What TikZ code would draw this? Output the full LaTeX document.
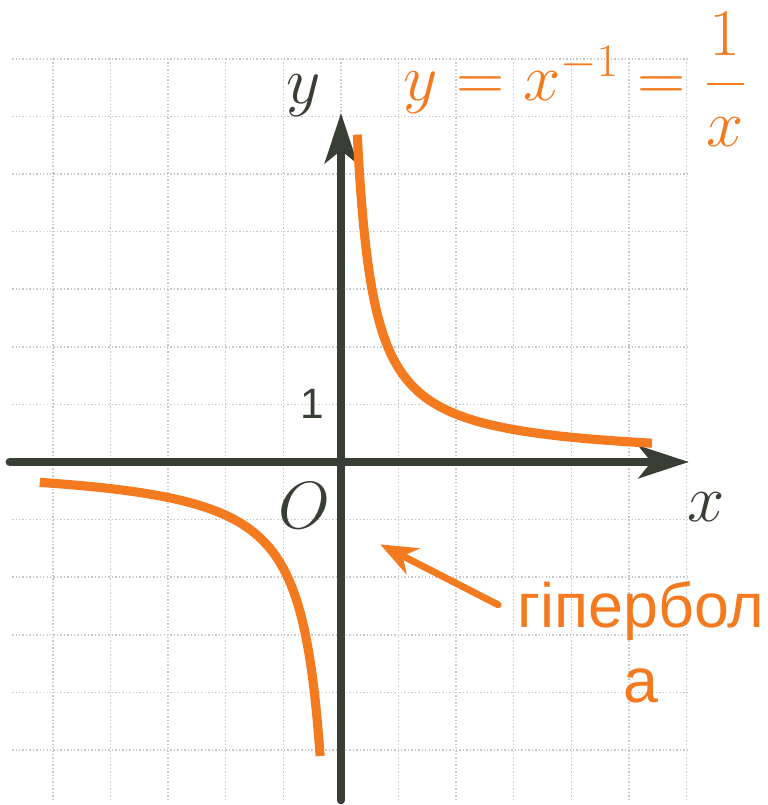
\documentclass[tikz,border=0pt]{standalone}
\usepackage{fix-cm}
\usepackage{amsmath}
\usepackage{fontspec}
\setmainfont{Liberation Sans}
\usetikzlibrary{arrows.meta}
\definecolor{hypOrange}{RGB}{244,122,32}
\definecolor{axisDark}{RGB}{55,63,52}
\definecolor{gridGray}{RGB}{200,200,200}

\begin{document}
\begin{tikzpicture}[
    gridline/.style={draw=gridGray, line width=0.7pt, densely dotted},
    axis/.style={draw=axisDark, line width=4.2pt, line cap=round, -{Stealth[length=0.87cm, width=0.56cm, inset=0.22cm]}},
    branch/.style={draw=hypOrange, line width=4.5pt, samples=200, smooth},
    pointer/.style={draw=hypOrange, line width=3.4pt, line cap=round, -{Stealth[length=0.64cm, width=0.5cm, inset=0.2cm]}},
    mathlbl/.style={inner sep=0pt, anchor=base, font=\fontsize{33}{40}\selectfont},
    textlbl/.style={inner sep=0pt, anchor=base, text=hypOrange, align=center, font=\fontsize{31}{37}\selectfont}
]
    \useasboundingbox (-5.92,-5.955) rectangle (7.413,8.021);

    \foreach \gx in {-5,...,6}
        \draw [gridline] (\gx,-5.87) -- (\gx,7);
    \foreach \gy in {-5,...,7}
        \draw [gridline] (-5.71,\gy) -- (6.04,\gy);

    \draw [axis] (-5.75,0) -- (6.04,0);
    \draw [axis] (0,-5.87) -- (0,6.06);

    \draw [branch, domain=0.283:5.4] plot (\x,{1.6/\x+0.03});
    \draw [branch, domain=-5.23:-0.36] plot (\x,{1.85/\x});

    \node [mathlbl, text=axisDark] (ylab) at (-0.64,6.22) {$y$};
    \node [mathlbl, text=axisDark] (xlab) at (6.34,-1.04) {$x$};
    \node [mathlbl, text=axisDark] (olab) at (-0.63,-1.15) {$O$};
    \node [inner sep=0pt, anchor=base, text=axisDark, font=\fontsize{21}{24}\selectfont] (unit) at (-0.5,0.76) {1};
    \node [mathlbl, text=hypOrange, anchor=base west] (formula) at (1.08,6.28) {$y = x^{-1} = \dfrac{1}{x}$};

    \node [textlbl] (curvename) at (5.21,-4.18) {гіпербол\\а};
    \coordinate (tail) at (2.73,-2.48);
    \coordinate (tip) at (0.68,-1.43);
    \draw [pointer] (tail) -- (tip);
\end{tikzpicture}
\end{document}
